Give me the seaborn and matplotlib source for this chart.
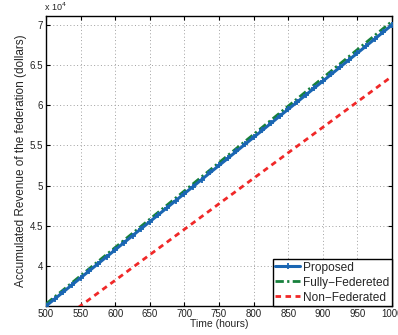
import matplotlib
matplotlib.use("Agg")
import matplotlib.pyplot as plt
import seaborn as sns
import pandas as pd
from matplotlib.ticker import FixedLocator, FuncFormatter

hours = [500, 512.5, 525, 537.5, 550, 562.5, 575, 587.5, 600, 612.5, 625, 637.5,
         650, 662.5, 675, 687.5, 700, 712.5, 725, 737.5, 750, 762.5, 775, 787.5,
         800, 812.5, 825, 837.5, 850, 862.5, 875, 887.5, 900, 912.5, 925, 937.5,
         950, 962.5, 975, 987.5, 1000]

proposed = [35000, 35870, 36750, 37630, 38500, 39380, 40250, 41120, 42000, 42880,
            43750, 44630, 45500, 46370, 47250, 48130, 49000, 49870, 50750, 51630,
            52500, 53370, 54250, 55130, 56000, 56870, 57750, 58630, 59500, 60370,
            61250, 62130, 63000, 63870, 64750, 65630, 66500, 67370, 68250, 69130,
            70000]

fully_federated = [35250, 36130, 37010, 37890, 38770, 39650, 40530, 41410, 42290,
                   43170, 44050, 44930, 45810, 46690, 47570, 48450, 49330, 50210,
                   51090, 51970, 52850, 53730, 54610, 55490, 56370, 57250, 58130,
                   59010, 59890, 60770, 61650, 62530, 63410, 64290, 65170, 66050,
                   66930, 67810, 68690, 69570, 70450]

non_federated = [31850, 32640, 33440, 34230, 35030, 35820, 36610, 37410, 38200,
                 38990, 39790, 40580, 41380, 42170, 42960, 43760, 44550, 45340,
                 46140, 46930, 47730, 48520, 49310, 50110, 50900, 51690, 52490,
                 53280, 54080, 54870, 55660, 56460, 57250, 58040, 58840, 59630,
                 60430, 61220, 62010, 62810, 63600]

series_names = ["Proposed", "Fully\u2212Federeted", "Non\u2212Federated"]
x_ticks = [500, 550, 600, 650, 700, 750, 800, 850, 900, 950, 1000]
y_ticks = [40000, 45000, 50000, 55000, 60000, 65000, 70000]

df = pd.DataFrame({"Time": hours, "Proposed": proposed,
                   "Fully": fully_federated, "Non": non_federated})

sns.set_style("white")
plt.rcParams["font.family"] = ["Liberation Sans", "DejaVu Sans"]

fig = plt.figure(figsize=(3.98, 3.35), dpi=100)
ax = fig.add_axes([0.1156, 0.0866, 0.8694, 0.8654])

blue = "#1a66b3"
sns.lineplot(data=df, x="Time", y="Fully", ax=ax, color="#17803c", linewidth=2.0,
             linestyle=(0, (3, 1.2, 0.8, 1.2)), label=series_names[1], zorder=3)
sns.lineplot(data=df, x="Time", y="Proposed", ax=ax, color=blue, linewidth=2.2,
             marker="+", markersize=4, markeredgewidth=1.3, markeredgecolor=blue,
             markerfacecolor=blue, label=series_names[0], zorder=4)
sns.lineplot(data=df, x="Time", y="Non", ax=ax, color="#f02828", linewidth=2.0,
             linestyle=(0, (2, 1.6)), label=series_names[2], zorder=3)

ax.set_xlim(500, 1000)
ax.set_ylim(35000, 71100)
ax.xaxis.set_major_locator(FixedLocator(x_ticks))
ax.yaxis.set_major_locator(FixedLocator(y_ticks))
ax.yaxis.set_major_formatter(FuncFormatter(lambda v, p: f"{v/1e4:g}"))
ax.grid(True, linestyle=(0, (1, 2.5)), color="#a0a0a0", linewidth=0.7)
ax.tick_params(direction="in", length=3, width=0.8, labelsize=7, pad=2,
               top=True, right=True, bottom=True, left=True, colors="black")
for lab in ax.get_xticklabels() + ax.get_yticklabels():
    lab.set_color("#222222")
for s in ax.spines.values():
    s.set_color("black")
    s.set_linewidth(1.0)

ax.set_xlabel("Time (hours)", fontsize=7.5, labelpad=0)
ax.set_ylabel("Accumulated Revenue of the federation (dollars)", fontsize=8.5, labelpad=2)
ax.text(-0.005, 1.012, r"x 10$^4$", transform=ax.transAxes, fontsize=6.5,
        ha="left", va="bottom")

handles, labels = ax.get_legend_handles_labels()
order = [labels.index(n) for n in series_names]
leg = ax.legend([handles[i] for i in order], [labels[i] for i in order],
                loc="lower right", fontsize=8.6, frameon=True, fancybox=False,
                borderpad=0.2, labelspacing=0.25, handlelength=2.1,
                handletextpad=0.25, borderaxespad=0.0)
leg.get_frame().set_edgecolor("black")
leg.get_frame().set_linewidth(1.0)
leg.get_frame().set_alpha(1)

fig.savefig("out.png", dpi=100)
